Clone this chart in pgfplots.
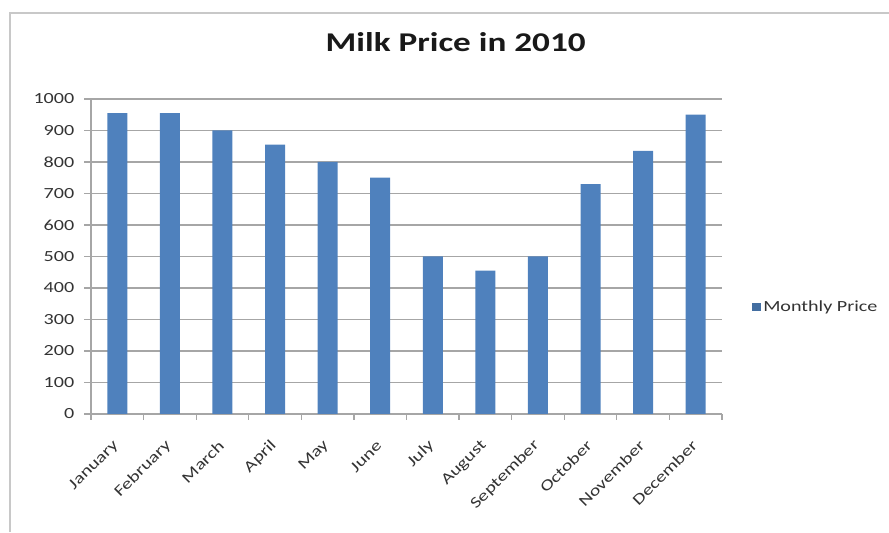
\documentclass[border=0pt]{standalone}
\usepackage{pgfplots}
\pgfplotsset{compat=1.18}
\usepackage{fontspec}
\setmainfont[FakeStretch=1.3]{Carlito}
\definecolor{barblue}{HTML}{4F81BD}
\definecolor{gridgray}{HTML}{A6A6A6}
\definecolor{txt}{HTML}{333333}
\definecolor{frame}{HTML}{C8C8C8}
\begin{document}
\begin{tikzpicture}[x=0.75pt,y=0.75pt]
\useasboundingbox (0,0) rectangle (889,532);
\draw[frame, line width=1.5pt] (10,0) -- (10,519) -- (889,519);
\begin{axis}[
  at={(91*0.75pt,118*0.75pt)}, anchor=south west,
  scale only axis, width=473.25pt, height=236.25pt,
  ybar, bar width=15pt,
  xmin=-0.5, xmax=11.5, ymin=0, ymax=1000,
  ytick={0,100,...,1000},
  xtick={0,...,11},
  xticklabels={January,February,March,April,May,June,July,August,September,October,November,December},
  minor xtick={-0.5,0.5,...,11.5},
  axis x line*=bottom, axis y line*=left,
  axis line style={gridgray, line width=0.9pt, -},
  ymajorgrids, grid style={gridgray, line width=0.9pt},
  tick align=outside,
  major tick length=5pt, minor tick length=4.5pt,
  x tick style={draw=none},
  minor x tick style={draw=gridgray, line width=0.9pt},
  y tick style={gridgray, line width=0.9pt},
  /pgf/number format/assume math mode=true,
  /pgf/number format/1000 sep={},
  ticklabel style={font=\fontsize{11.6}{13}\selectfont, text=txt},
  yticklabel style={xshift=-4pt},
  xticklabel style={rotate=45, anchor=east, inner sep=1pt},
  xticklabel shift=16pt,
  title={Milk Price in 2010},
  title style={at={(0.578,1)}, anchor=base, yshift=29.8pt, font=\bfseries\fontsize{20.3}{24}\selectfont, text=black!90},
  legend style={at={(1.047,0.34)}, anchor=west, draw=none, fill=none, font=\fontsize{11.6}{13}\selectfont, text=txt, inner sep=0pt},
  legend image code/.code={\fill[barblue!85!black] (0pt,-3.2pt) rectangle (6.5pt,3.2pt);},
]
\addplot[fill=barblue, draw=none] coordinates {
 (0,955) (1,955) (2,900) (3,855) (4,800) (5,750)
 (6,500) (7,455) (8,500) (9,730) (10,835) (11,950)};
\addlegendentry{Monthly Price}
\end{axis}
\end{tikzpicture}
\end{document}
